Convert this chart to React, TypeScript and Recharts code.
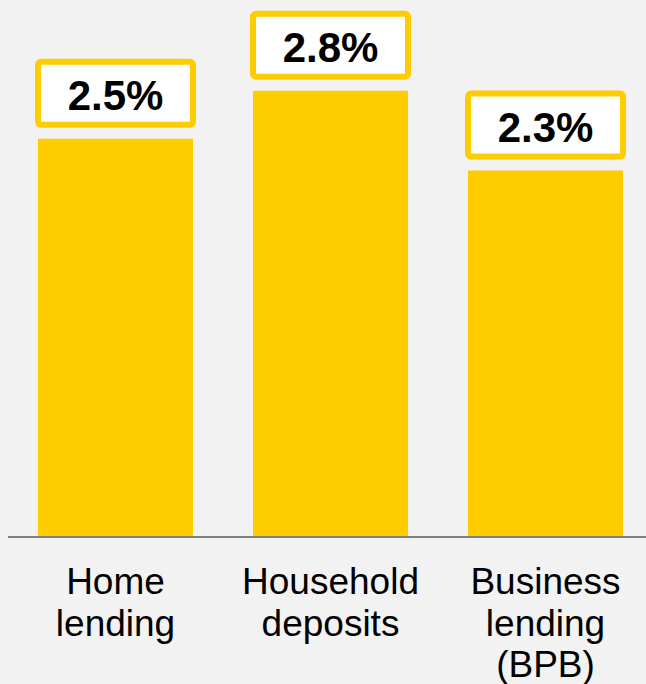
import React from "react";
import { BarChart, Bar, XAxis, YAxis, LabelList } from "recharts";

const categories = ["Home\nlending", "Household\ndeposits", "Business\nlending\n(BPB)"];
const values = [2.5, 2.8, 2.3];

const data = categories.map((name, i) => ({ name, value: values[i] }));

const FONT = "'Liberation Sans', Arial, sans-serif";
const YELLOW = "#FFCC00";

const CategoryTick = (props: any) => {
    const { x, y, payload } = props;
    const lines = String(payload.value).split("\n");
    return (
        <g>
            {lines.map((line: string, i: number) => (
                <text
                    key={i}
                    x={x}
                    y={y + 57 + i * 41.5}
                    textAnchor="middle"
                    fontFamily={FONT}
                    fontSize={37}
                    fill="#000"
                >
                    {line}
                </text>
            ))}
        </g>
    );
};

// white box with yellow frame above each bar
const ValueBox = (props: any) => {
    const { x, y, width, value } = props;
    const cx = x + width / 2;
    const boxW = 155;
    const boxH = 63;
    const top = y - 77;
    return (
        <g>
            <rect
                x={cx - boxW / 2}
                y={top}
                width={boxW}
                height={boxH}
                rx={3}
                fill="#fff"
                stroke={YELLOW}
                strokeWidth={6}
            />
            <text
                x={cx}
                y={y - 28.5}
                textAnchor="middle"
                fontFamily={FONT}
                fontWeight="bold"
                fontSize={42}
                fill="#000"
            >
                {`${Number(value).toFixed(1)}%`}
            </text>
        </g>
    );
};

export default function App() {
    return (
        <div
            style={{
                position: "absolute",
                left: 0,
                top: 0,
                width: 646,
                height: 684,
                overflow: "hidden",
                background: "#F2F2F2",
            }}
        >
            <BarChart
                width={653}
                height={684}
                data={data}
                margin={{ top: 59, right: 0, left: 8, bottom: 0 }}
                barCategoryGap={30}
            >
                <XAxis
                    dataKey="name"
                    height={147}
                    axisLine={{ stroke: "#808080", strokeWidth: 2 }}
                    tickLine={false}
                    tickSize={0}
                    tickMargin={0}
                    interval={0}
                    tick={<CategoryTick />}
                />
                <YAxis hide domain={[0, 3]} />
                <Bar dataKey="value" fill={YELLOW} isAnimationActive={false}>
                    <LabelList dataKey="value" content={<ValueBox />} />
                </Bar>
            </BarChart>
        </div>
    );
}
